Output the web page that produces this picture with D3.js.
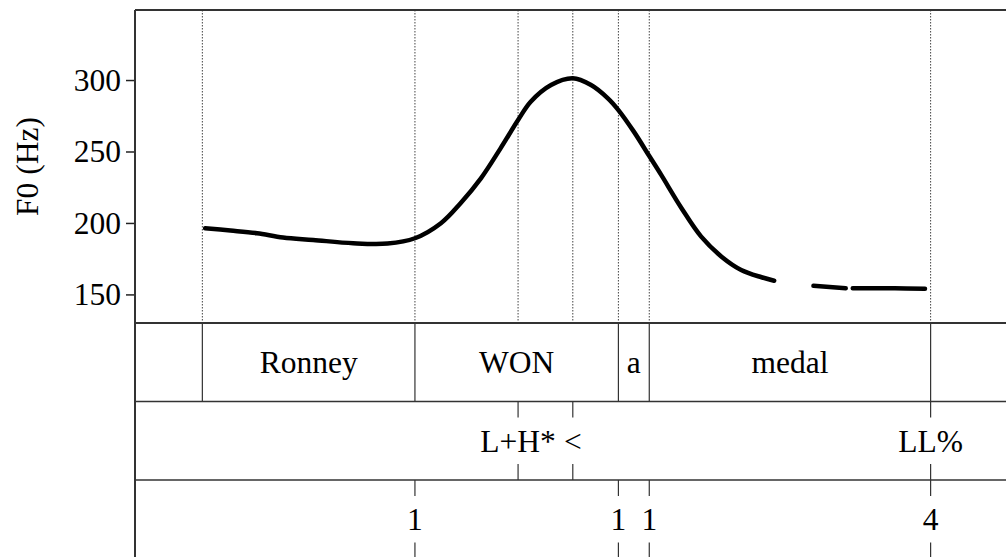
<!DOCTYPE html>
<html>
<head>
<meta charset="utf-8">
<script src="https://cdn.jsdelivr.net/npm/d3@7"></script>
<style>
  body { margin: 0; background: #fff; }
  text { font-family: "Liberation Serif", "Times New Roman", serif; fill: #000; }
</style>
</head>
<body>
<div id="chart-area"></div>
<script>
// pitch track (time in s, F0 in Hz); null marks a gap in the track
var pitchTime = [0.100, 0.136, 0.174, 0.211, 0.254, 0.311, 0.360, 0.399, 0.436, 0.464, 0.493, 0.521,
                 0.546, 0.564, 0.593, 0.624, 0.650, 0.674, 0.689, 0.711, 0.733, 0.750, 0.779, 0.807,
                 0.836, 0.864, 0.893, 0.911,
                 null, 0.967, 1.013, null, 1.023, 1.083, 1.126];
var pitchHz = [196.3, 194.7, 192.8, 189.8, 188.1, 185.8, 185.6, 189.3, 199.8, 213.8, 231.2, 252.2,
               272.0, 284.8, 296.5, 301.2, 296.5, 287.2, 279.0, 263.9, 246.8, 233.6, 210.3, 190.4,
               176.4, 167.1, 162.0, 159.6,
               null, 156.0, 154.3, null, 154.3, 154.3, 154.0];

// word tier: boundaries and interval labels
var wordBounds = [0.096, 0.399, 0.689, 0.733, 1.134];
var wordLabels = ["Ronney", "WON", "a", "medal"];

// tone tier points
var toneTimes = [0.546, 0.624, 1.134];
var toneLabels = ["L+H*", "<", "LL%"];

// break index tier points
var breakTimes = [0.399, 0.689, 0.733, 1.134];
var breakLabels = ["1", "1", "1", "4"];

var yTicks = [150, 200, 250, 300];

var W = 1006, H = 557;
var plotLeft = 135, plotRight = 1012, plotTop = 10, pitchBottom = 323;
var tierH = 78.5;
var fontSize = "31.5px";

var svg = d3.select("#chart-area").append("svg")
    .attr("width", W)
    .attr("height", H);

var x = d3.scaleLinear().domain([0, 1.25]).range([plotLeft, plotRight]);
var y = d3.scaleLinear().domain([130, 349]).range([pitchBottom, plotTop]);

// dotted guides through the pitch area at every boundary / point
var guides = Array.from(new Set(wordBounds.concat(toneTimes, breakTimes)));
svg.append("g").selectAll("line")
    .data(guides)
  .enter().append("line")
    .attr("x1", (d) => x(d)).attr("x2", (d) => x(d))
    .attr("y1", plotTop).attr("y2", pitchBottom)
    .attr("stroke", "#444")
    .attr("stroke-width", 1)
    .attr("stroke-dasharray", "1.5,1.5");

// pitch track
var line = d3.line()
    .defined((d, i) => pitchTime[i] !== null)
    .x((d, i) => x(pitchTime[i]))
    .y((d, i) => y(pitchHz[i]))
    .curve(d3.curveCatmullRom.alpha(0.5));

svg.append("path")
    .attr("d", line(pitchTime))
    .attr("fill", "none")
    .attr("stroke", "#000")
    .attr("stroke-width", 4.5)
    .attr("stroke-linecap", "round")
    .attr("stroke-linejoin", "round");

// y axis
var yAxis = svg.append("g")
    .attr("transform", "translate(" + plotLeft + ",0)")
    .call(d3.axisLeft(y).tickValues(yTicks).tickSize(9).tickPadding(5));
yAxis.select(".domain").remove();
yAxis.selectAll(".tick line").attr("stroke", "#222").attr("stroke-width", 1.5);
yAxis.selectAll(".tick text")
    .style("font-family", "'Liberation Serif', serif")
    .style("font-size", fontSize)
    .attr("fill", "#000");

svg.append("text")
    .attr("transform", "translate(27," + ((plotTop + pitchBottom) / 2) + ") rotate(-90)")
    .attr("text-anchor", "middle")
    .attr("dy", "0.35em")
    .style("font-size", fontSize)
    .text("F0 (Hz)");

// tiers
var tier1 = pitchBottom, tier2 = tier1 + tierH, tier3 = tier2 + tierH, tierEnd = tier3 + tierH;

// word tier boundaries (solid)
svg.append("g").selectAll("line")
    .data(wordBounds)
  .enter().append("line")
    .attr("x1", (d) => x(d)).attr("x2", (d) => x(d))
    .attr("y1", tier1).attr("y2", tier2)
    .attr("stroke", "#333").attr("stroke-width", 1.2);

svg.append("g").selectAll("text")
    .data(wordLabels)
  .enter().append("text")
    .attr("x", (d, i) => (x(wordBounds[i]) + x(wordBounds[i + 1])) / 2)
    .attr("y", (tier1 + tier2) / 2)
    .attr("dy", "0.35em")
    .attr("text-anchor", "middle")
    .style("font-size", fontSize)
    .text((d) => d);

// point tiers: short ticks at the tier edges plus a centred label
function pointTier(times, labels, y0, y1) {
    var g = svg.append("g");
    var tick = 16;
    g.selectAll("line.top").data(times).enter().append("line")
        .attr("x1", (d) => x(d)).attr("x2", (d) => x(d))
        .attr("y1", y0).attr("y2", y0 + tick)
        .attr("stroke", "#333").attr("stroke-width", 1.2);
    g.selectAll("line.bot").data(times).enter().append("line")
        .attr("x1", (d) => x(d)).attr("x2", (d) => x(d))
        .attr("y1", y1 - tick).attr("y2", y1)
        .attr("stroke", "#333").attr("stroke-width", 1.2);
    g.selectAll("text").data(labels).enter().append("text")
        .attr("x", (d, i) => x(times[i]))
        .attr("y", (y0 + y1) / 2)
        .attr("dy", "0.35em")
        .attr("text-anchor", "middle")
        .style("font-size", fontSize)
        .text((d) => d);
}
pointTier(toneTimes, toneLabels, tier2, tier3);
pointTier(breakTimes, breakLabels, tier3, tierEnd);

// frame and tier separators
svg.append("line").attr("x1", plotLeft).attr("x2", plotRight).attr("y1", plotTop).attr("y2", plotTop)
    .attr("stroke", "#333").attr("stroke-width", 2);
svg.append("line").attr("x1", plotLeft).attr("x2", plotLeft).attr("y1", plotTop).attr("y2", H)
    .attr("stroke", "#333").attr("stroke-width", 2);
[tier1, tier2, tier3].forEach((yy, i) => {
    svg.append("line").attr("x1", plotLeft).attr("x2", plotRight).attr("y1", yy).attr("y2", yy)
        .attr("stroke", "#333").attr("stroke-width", i === 0 ? 2 : 1.5);
});
</script>
</body>
</html>
